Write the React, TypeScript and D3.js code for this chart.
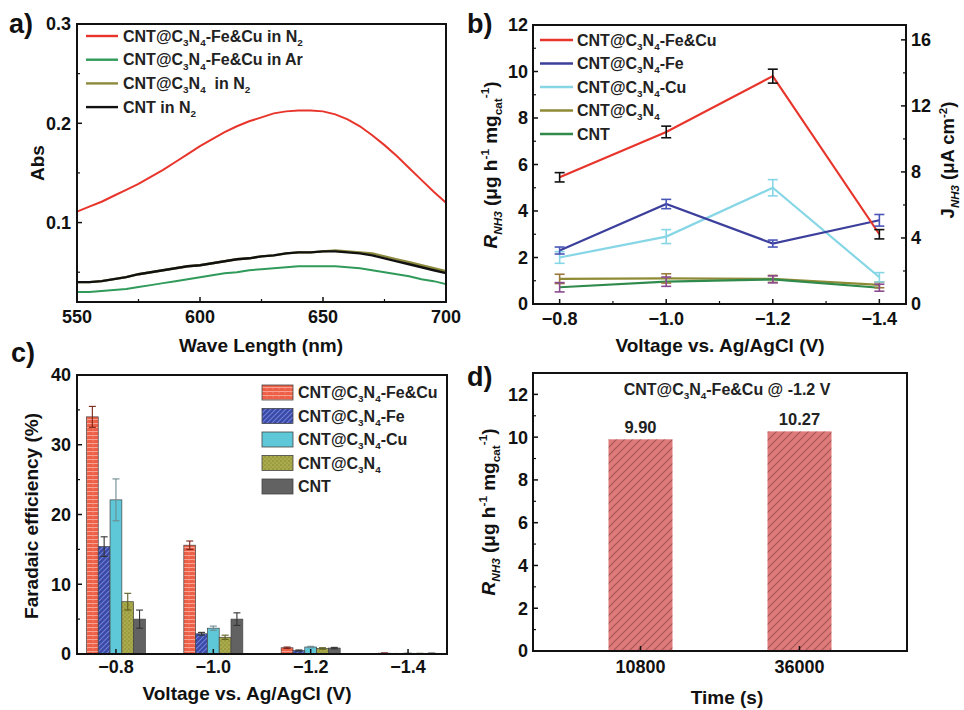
import React from 'react';
import * as d3 from 'd3';

const FONT = '"Liberation Sans", Arial, sans-serif';

// ---- panel a : UV-vis absorbance ----
const waveLength = [550, 555, 560, 565, 570, 575, 580, 585, 590, 595, 600, 605, 610, 615, 620, 625,
  630, 635, 640, 645, 650, 655, 660, 665, 670, 675, 680, 685, 690, 695, 700];
const absFeCuN2 = [0.111, 0.116, 0.121, 0.127, 0.133, 0.139, 0.146, 0.153, 0.161, 0.169, 0.177, 0.184,
  0.191, 0.197, 0.202, 0.206, 0.210, 0.212, 0.213, 0.213, 0.212, 0.209, 0.204, 0.197, 0.188, 0.178,
  0.167, 0.155, 0.143, 0.131, 0.120];
const absFeCuAr = [0.030, 0.030, 0.031, 0.032, 0.033, 0.035, 0.037, 0.039, 0.041, 0.043, 0.045, 0.047,
  0.049, 0.050, 0.052, 0.053, 0.054, 0.055, 0.056, 0.056, 0.056, 0.056, 0.055, 0.054, 0.052, 0.050,
  0.048, 0.046, 0.043, 0.041, 0.038];
const absC3N4N2 = [0.040, 0.040, 0.041, 0.043, 0.045, 0.048, 0.050, 0.052, 0.054, 0.056, 0.057, 0.059,
  0.061, 0.063, 0.064, 0.066, 0.067, 0.069, 0.070, 0.070, 0.071, 0.072, 0.071, 0.070, 0.069, 0.066,
  0.063, 0.060, 0.057, 0.054, 0.051];
const absCntN2 = [0.040, 0.040, 0.041, 0.043, 0.045, 0.048, 0.050, 0.052, 0.054, 0.056, 0.057, 0.059,
  0.061, 0.063, 0.064, 0.066, 0.067, 0.069, 0.070, 0.070, 0.071, 0.071, 0.070, 0.069, 0.067, 0.064,
  0.061, 0.058, 0.055, 0.052, 0.049];
const absTicks = [0.1, 0.2, 0.3];
const absMinor = [0.05, 0.15, 0.25];
const waveTicks = [550, 600, 650, 700];
const waveMinor = [575, 625, 675];

// ---- panel b : yield rate vs potential ----
const voltages = [-0.8, -1.0, -1.2, -1.4];
const rateFeCu = [5.45, 7.4, 9.8, 3.0];
const rateFeCuErr = [0.2, 0.25, 0.3, 0.2];
const rateFe = [2.3, 4.3, 2.6, 3.6];
const rateFeErr = [0.15, 0.2, 0.15, 0.25];
const rateCu = [2.0, 2.9, 5.0, 1.15];
const rateCuErr = [0.25, 0.3, 0.35, 0.2];
const rateC3N4 = [1.08, 1.1, 1.08, 0.82];
const rateC3N4Err = [0.2, 0.2, 0.15, 0.12];
const rateCnt = [0.72, 0.96, 1.06, 0.7];
const rateCntErr = [0.2, 0.2, 0.15, 0.15];
const rateTicks = [0, 2, 4, 6, 8, 10, 12];
const currentTicks = [0, 4, 8, 12, 16];

// ---- panel c : Faradaic efficiency ----
const feFeCu = [34.0, 15.6, 0.9, 0.12];
const feFeCuErr = [1.5, 0.6, 0.1, 0.02];
const feFe = [15.4, 2.9, 0.5, 0.05];
const feFeErr = [1.4, 0.2, 0.08, 0.02];
const feCu = [22.1, 3.7, 1.0, 0.1];
const feCuErr = [3.0, 0.3, 0.1, 0.02];
const feC3N4 = [7.5, 2.4, 0.8, 0.08];
const feC3N4Err = [1.2, 0.3, 0.1, 0.02];
const feCnt = [5.0, 5.0, 0.85, 0.1];
const feCntErr = [1.3, 0.9, 0.1, 0.02];
const feTicks = [0, 10, 20, 30, 40];

// ---- panel d : stability ----
const times = ['10800', '36000'];
const stabRate = [9.9, 10.27];
const stabLabels = ['9.90', '10.27'];
const stabTicks = [0, 2, 4, 6, 8, 10, 12];

type Seg = [string, string?];

const nameFeCu: Seg[] = [['CNT@C'], ['3', 'b'], ['N'], ['4', 'b'], ['-Fe&Cu']];
const nameFe: Seg[] = [['CNT@C'], ['3', 'b'], ['N'], ['4', 'b'], ['-Fe']];
const nameCu: Seg[] = [['CNT@C'], ['3', 'b'], ['N'], ['4', 'b'], ['-Cu']];
const nameC3N4: Seg[] = [['CNT@C'], ['3', 'b'], ['N'], ['4', 'b']];
const nameCnt: Seg[] = [['CNT']];

function Rich({ segs, fs, ...rest }: any) {
  let cur = 0;
  const out = segs.map(([t, m = ''], i: number) => {
    const small = m.includes('b') || m.includes('p');
    const target = m.includes('b') ? fs * 0.28 : m.includes('p') ? -fs * 0.4 : 0;
    const dy = target - cur;
    cur = target;
    return (
      <tspan key={i} dy={dy} fontSize={small ? fs * 0.62 : fs} fontStyle={m.includes('i') ? 'italic' : 'normal'}>
        {t}
      </tspan>
    );
  });
  return (
    <text fontSize={fs} fontFamily={FONT} fontWeight="bold" {...rest}>
      {out}
    </text>
  );
}

function Frame({ x0, x1, y0, y1 }: any) {
  return <rect x={x0} y={y0} width={x1 - x0} height={y1 - y0} fill="none" stroke="#111" strokeWidth={2} />;
}

function YTicks({ scale, ticks, minor = [], x, dir = 1, fmt, labelX, anchor = 'end' }: any) {
  return (
    <g>
      {ticks.map((t: number) => (
        <g key={'M' + t}>
          <line x1={x} x2={x + dir * 5} y1={scale(t)} y2={scale(t)} stroke="#111" strokeWidth={1.5} />
          <text x={labelX} y={scale(t)} dy="0.36em" textAnchor={anchor} fontSize={18} fontWeight="bold"
            fontFamily={FONT} fill="#111">{fmt ? fmt(t) : t}</text>
        </g>
      ))}
      {minor.map((t: number) => (
        <line key={'m' + t} x1={x} x2={x + dir * 3} y1={scale(t)} y2={scale(t)} stroke="#111" strokeWidth={1.2} />
      ))}
    </g>
  );
}

function XTicks({ scale, ticks, minor = [], y, fmt, labelY }: any) {
  return (
    <g>
      {ticks.map((t: any) => (
        <g key={'M' + t}>
          <line x1={scale(t)} x2={scale(t)} y1={y} y2={y - 5} stroke="#111" strokeWidth={1.5} />
          <text x={scale(t)} y={labelY} textAnchor="middle" fontSize={18} fontWeight="bold" fontFamily={FONT}
            fill="#111">{fmt ? fmt(t) : t}</text>
        </g>
      ))}
      {minor.map((t: number) => (
        <line key={'m' + t} x1={scale(t)} x2={scale(t)} y1={y} y2={y - 3} stroke="#111" strokeWidth={1.2} />
      ))}
    </g>
  );
}

function PanelA() {
  const x = d3.scaleLinear().domain([550, 700]).range([77, 446]);
  const y = d3.scaleLinear().domain([0.02, 0.3]).range([302, 24]);
  const line = d3.line<number>().x((_, i) => x(waveLength[i])).y((d) => y(d));
  const series = [
    { v: absFeCuN2, c: '#e8352c', w: 2, name: [...nameFeCu, [' in N'], ['2', 'b']] },
    { v: absFeCuAr, c: '#2f9a5a', w: 2, name: [...nameFeCu, [' in Ar']] },
    { v: absC3N4N2, c: '#8c8a3c', w: 2.4, name: [...nameC3N4, ['\u00a0 in N'], ['2', 'b']] },
    { v: absCntN2, c: '#111', w: 2.4, name: [['CNT in N'], ['2', 'b']] },
  ];
  return (
    <g>
      {series.map((s, i) => (
        <path key={i} d={line(s.v) as string} fill="none" stroke={s.c} strokeWidth={s.w} />
      ))}
      <Frame x0={77} x1={446} y0={24} y1={302} />
      <YTicks scale={y} ticks={absTicks} minor={absMinor} x={77} labelX={71} fmt={d3.format('.1f')} />
      <XTicks scale={x} ticks={waveTicks} minor={waveMinor} y={302} labelY={323} />
      {series.map((s, i) => (
        <g key={'l' + i}>
          <line x1={86} x2={118} y1={36 + i * 23.7} y2={36 + i * 23.7} stroke={s.c} strokeWidth={2.4} />
          <Rich segs={s.name} fs={16} x={123} y={41.5 + i * 23.7} fill="#222" />
        </g>
      ))}
      <text transform="translate(44,163) rotate(-90)" textAnchor="middle" fontSize={19} fontWeight="bold"
        fontFamily={FONT} fill="#111">Abs</text>
      <text x={261} y={352} textAnchor="middle" fontSize={19} fontWeight="bold" fontFamily={FONT}
        fill="#111">Wave Length (nm)</text>
    </g>
  );
}

function PanelB() {
  const x = d3.scaleLinear().domain([-0.75, -1.45]).range([533, 906]);
  const y = d3.scaleLinear().domain([0, 12]).range([304, 25]);
  const yR = d3.scaleLinear().domain([0, 16.9]).range([304, 25]);
  const line = d3.line<number>().x((_, i) => x(voltages[i])).y((d) => y(d));
  const series = [
    { v: rateFeCu, e: rateFeCuErr, c: '#e8352c', ec: '#111', name: nameFeCu },
    { v: rateFe, e: rateFeErr, c: '#3c3f9c', ec: '#4a55b8', name: nameFe },
    { v: rateCu, e: rateCuErr, c: '#86d6e6', ec: '#86d6e6', name: nameCu },
    { v: rateC3N4, e: rateC3N4Err, c: '#8f8a35', ec: '#9a7a3a', name: nameC3N4 },
    { v: rateCnt, e: rateCntErr, c: '#2f8a4c', ec: '#8a4a90', name: nameCnt },
  ];
  const drawOrder = [3, 4, 2, 1, 0];
  return (
    <g>
      {drawOrder.map((k) => (
        <path key={k} d={line(series[k].v) as string} fill="none" stroke={series[k].c} strokeWidth={2.2} />
      ))}
      {drawOrder.map((k) =>
        series[k].v.map((v, i) => {
          const cx = x(voltages[i]);
          const t = y(v + series[k].e[i]);
          const b = y(v - series[k].e[i]);
          return (
            <g key={k + '-' + i} stroke={series[k].ec} strokeWidth={1.6}>
              <line x1={cx} x2={cx} y1={t} y2={b} />
              <line x1={cx - 5} x2={cx + 5} y1={t} y2={t} />
              <line x1={cx - 5} x2={cx + 5} y1={b} y2={b} />
            </g>
          );
        })
      )}
      <Frame x0={533} x1={906} y0={25} y1={304} />
      <YTicks scale={y} ticks={rateTicks} minor={[1, 3, 5, 7, 9, 11]} x={533} labelX={528} />
      <YTicks scale={yR} ticks={currentTicks} minor={[2, 6, 10, 14]} x={906} dir={-1} labelX={911} anchor="start" />
      <XTicks scale={x} ticks={voltages} minor={[-0.9, -1.1, -1.3]} y={304} labelY={325} fmt={d3.format('.1f')} />
      {series.map((s, i) => (
        <g key={'l' + i}>
          <line x1={540} x2={573} y1={40 + i * 23.5} y2={40 + i * 23.5} stroke={s.c} strokeWidth={2.4} />
          <Rich segs={s.name} fs={16} x={577} y={45.5 + i * 23.5} fill="#222" />
        </g>
      ))}
      <Rich segs={[['R', 'i'], ['NH3', 'bi'], [' (\u03bcg h'], ['-1', 'p'], [' mg'], ['cat', 'b'], ['-1', 'p'], [')']]}
        fs={19} transform="translate(497,165) rotate(-90)" textAnchor="middle" fill="#111" />
      <Rich segs={[['J'], ['NH3', 'bi'], [' (\u03bcA cm'], ['-2', 'p'], [')']]}
        fs={18.5} transform="translate(954,160) rotate(-90)" textAnchor="middle" fill="#111" />
      <text x={720} y={352} textAnchor="middle" fontSize={19} fontWeight="bold" fontFamily={FONT}
        fill="#111">Voltage vs. Ag/AgCl (V)</text>
    </g>
  );
}

function PanelC() {
  const x = d3.scaleLinear().domain([-0.72, -1.48]).range([77, 447]);
  const y = d3.scaleLinear().domain([0, 40]).range([654, 375]);
  const barW = 11.8;
  const series = [
    { v: feFeCu, e: feFeCuErr, fill: 'url(#brick)', ec: '#7a2418', name: nameFeCu },
    { v: feFe, e: feFeErr, fill: 'url(#hatchBlue)', ec: '#333', name: nameFe },
    { v: feCu, e: feCuErr, fill: '#5ec8d8', ec: '#6f8a90', name: nameCu },
    { v: feC3N4, e: feC3N4Err, fill: 'url(#dotOlive)', ec: '#5e5e20', name: nameC3N4 },
    { v: feCnt, e: feCntErr, fill: '#626262', ec: '#333', name: nameCnt },
  ];
  return (
    <g>
      {series.map((s, k) =>
        s.v.map((v, i) => {
          const bx = x(voltages[i]) - (barW * series.length) / 2 + k * barW;
          const cx = bx + barW / 2;
          const t = y(v + s.e[i]);
          const b = y(v - s.e[i]);
          return (
            <g key={k + '-' + i}>
              <rect x={bx} y={y(v)} width={barW} height={y(0) - y(v)} fill={s.fill} stroke="#444"
                strokeWidth={0.7} />
              <g stroke={s.ec} strokeWidth={1.1}>
                <line x1={cx} x2={cx} y1={t} y2={b} />
                <line x1={cx - 3.5} x2={cx + 3.5} y1={t} y2={t} />
                <line x1={cx - 3.5} x2={cx + 3.5} y1={b} y2={b} />
              </g>
            </g>
          );
        })
      )}
      <Frame x0={77} x1={447} y0={375} y1={654} />
      <YTicks scale={y} ticks={feTicks} minor={[5, 15, 25, 35]} x={77} labelX={71} />
      <XTicks scale={x} ticks={voltages} y={654} labelY={673} fmt={d3.format('.1f')} />
      {series.map((s, i) => (
        <g key={'l' + i}>
          <rect x={262} y={385 + i * 23.5} width={31} height={15} fill={s.fill} stroke="#444" strokeWidth={0.8} />
          <Rich segs={s.name} fs={16} x={298} y={398 + i * 23.5} fill="#222" />
        </g>
      ))}
      <text transform="translate(38,516) rotate(-90)" textAnchor="middle" fontSize={19} fontWeight="bold"
        fontFamily={FONT} fill="#111">Faradaic efficiency (%)</text>
      <text x={247} y={700} textAnchor="middle" fontSize={19} fontWeight="bold" fontFamily={FONT}
        fill="#111">Voltage vs. Ag/AgCl (V)</text>
    </g>
  );
}

function PanelD() {
  const x = d3.scalePoint<string>().domain(times).range([533, 907]).padding(0.676);
  const y = d3.scaleLinear().domain([0, 13]).range([651, 373]);
  const barW = 64;
  return (
    <g>
      {stabRate.map((v, i) => (
        <g key={i}>
          <rect x={(x(times[i]) as number) - barW / 2} y={y(v)} width={barW} height={y(0) - y(v)}
            fill="url(#hatchRed)" />
          <text x={x(times[i])} y={y(v) - 6} textAnchor="middle" fontSize={16.5} fontWeight="bold"
            fontFamily={FONT} fill="#222">{stabLabels[i]}</text>
        </g>
      ))}
      <Frame x0={533} x1={907} y0={373} y1={651} />
      <YTicks scale={y} ticks={stabTicks} minor={[1, 3, 5, 7, 9, 11]} x={533} labelX={528} />
      <XTicks scale={x} ticks={times} y={651} labelY={673} />
      <Rich segs={[...nameFeCu, [' @ -1.2 V']]} fs={16} x={727} y={395} textAnchor="middle" fill="#222" />
      <Rich segs={[['R', 'i'], ['NH3', 'bi'], [' (\u03bcg h'], ['-1', 'p'], [' mg'], ['cat', 'b'], ['-1', 'p'], [')']]}
        fs={19} transform="translate(495,512) rotate(-90)" textAnchor="middle" fill="#111" />
      <text x={727} y={704} textAnchor="middle" fontSize={19} fontWeight="bold" fontFamily={FONT}
        fill="#111">Time (s)</text>
    </g>
  );
}

export default function App() {
  const labels = [
    { t: 'a)', x: 9, y: 33 },
    { t: 'b)', x: 467, y: 33 },
    { t: 'c)', x: 11, y: 362 },
    { t: 'd)', x: 467, y: 386 },
  ];
  return (
    <svg width={964} height={710} viewBox="0 0 964 710"
      style={{ position: 'absolute', left: 0, top: 0, background: '#fff' }}>
      <defs>
        <pattern id="brick" patternUnits="userSpaceOnUse" width={6} height={4}>
          <rect width={6} height={4} fill="#ee5f48" />
          <line x1={0} x2={6} y1={3.5} y2={3.5} stroke="#f8a391" strokeWidth={1} />
          <line x1={3} x2={3} y1={0} y2={1.5} stroke="#f39a86" strokeWidth={0.6} />
        </pattern>
        <pattern id="hatchBlue" patternUnits="userSpaceOnUse" width={5} height={5}>
          <rect width={5} height={5} fill="#3a49a6" />
          <path d="M-1,1 l2,-2 M0,5 l5,-5 M4,6 l2,-2" stroke="#6e80d8" strokeWidth={1.1} />
        </pattern>
        <pattern id="dotOlive" patternUnits="userSpaceOnUse" width={4} height={4}>
          <rect width={4} height={4} fill="#aaab4c" />
          <circle cx={1} cy={1} r={0.7} fill="#7d7e2a" />
          <circle cx={3} cy={3} r={0.7} fill="#8b8c32" />
        </pattern>
        <pattern id="hatchRed" patternUnits="userSpaceOnUse" width={8} height={8}>
          <rect width={8} height={8} fill="#df7a7a" />
          <path d="M-1,1 l2,-2 M0,8 l8,-8 M7,9 l2,-2" stroke="#a65454" strokeWidth={1.2} />
        </pattern>
      </defs>
      <PanelA />
      <PanelB />
      <PanelC />
      <PanelD />
      {labels.map((l) => (
        <text key={l.t} x={l.x} y={l.y} fontSize={27} fontWeight="bold" fontFamily={FONT} fill="#111">{l.t}</text>
      ))}
    </svg>
  );
}
